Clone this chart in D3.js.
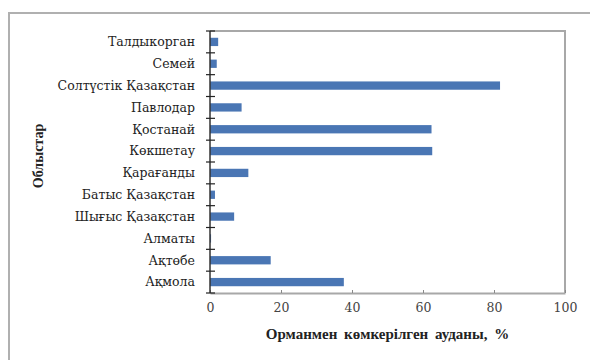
<!DOCTYPE html>
<html>
<head>
<meta charset="utf-8">
<script src="https://cdn.jsdelivr.net/npm/d3@7"></script>
<style>
  body { margin: 0; background: #fff; }
</style>
</head>
<body>
<script>
// regions, bottom to top as drawn in the chart
var regions = ["Ақмола", "Ақтөбе", "Алматы", "Шығыс Қазақстан", "Батыс Қазақстан",
  "Қарағанды", "Көкшетау", "Қостанай", "Павлодар", "Солтүстік Қазақстан", "Семей", "Талдыкорган"];
var forestShare = [37.7, 17.1, 0.3, 6.8, 1.4, 10.8, 62.6, 62.4, 8.9, 81.7, 1.9, 2.3];
var xTicks = [0, 20, 40, 60, 80, 100];

var width = 590, height = 360;
var margin = {top: 31, right: 25, bottom: 67, left: 210};
var serif = "'DejaVu Serif', serif";
var serifBold = "'Liberation Serif', 'DejaVu Serif', serif";

var svg = d3.select("body").append("svg")
    .attr("width", width)
    .attr("height", height);

// outer frame (only top & left visible)
svg.append("path")
    .attr("d", "M9,372 L9,13 L600,13")
    .attr("fill", "none")
    .attr("stroke", "#b0b0b0")
    .attr("stroke-width", 2);

var x = d3.scaleLinear()
    .domain([0, 100])
    .range([margin.left, width - margin.right]);

var y = d3.scaleBand()
    .domain(regions.slice().reverse())
    .range([margin.top, height - margin.bottom])
    .paddingInner(0.62)
    .paddingOuter(0.31);

var data = regions.map(function(r, i) { return {name: r, value: forestShare[i]}; });

// plot area border (top & right gray)
svg.append("path")
    .attr("d", "M" + x(0) + "," + margin.top + " L" + x(100) + "," + margin.top +
      " L" + x(100) + "," + (height - margin.bottom))
    .attr("fill", "none")
    .attr("stroke", "#a8a8a8")
    .attr("stroke-width", 2);

// bars
svg.append("g")
  .selectAll("rect")
  .data(data)
  .enter()
  .append("rect")
    .attr("x", x(0))
    .attr("y", function(d) { return y(d.name); })
    .attr("width", function(d) { return x(d.value) - x(0); })
    .attr("height", y.bandwidth())
    .attr("fill", "#4a76b4");

// x axis
var xAxis = svg.append("g")
    .attr("transform", "translate(0," + (height - margin.bottom) + ")")
    .call(d3.axisBottom(x).tickValues(xTicks).tickSizeInner(-3).tickSizeOuter(0).tickPadding(10));
xAxis.attr("font-family", serif);
xAxis.select(".domain").attr("stroke", "#a8a8a8").attr("stroke-width", 2);
xAxis.selectAll(".tick line").attr("stroke", "#888");
xAxis.selectAll("text")
    .attr("font-size", 12.5)
    .attr("fill", "#444");

// y axis: ticks between categories, crossing the axis
var yAxisG = svg.append("g");
yAxisG.append("line")
    .attr("x1", x(0)).attr("x2", x(0))
    .attr("y1", margin.top).attr("y2", height - margin.bottom)
    .attr("stroke", "#333").attr("stroke-width", 1.5);
var step = y.step();
var bounds = d3.range(regions.length + 1).map(function(i) { return margin.top + i * step; });
yAxisG.selectAll(".ytick")
  .data(bounds)
  .enter()
  .append("line")
    .attr("x1", x(0) - 4).attr("x2", x(0) + 5)
    .attr("y1", function(d) { return d; })
    .attr("y2", function(d) { return d; })
    .attr("stroke", "#222").attr("stroke-width", 1.2);

yAxisG.selectAll(".ylab")
  .data(regions)
  .enter()
  .append("text")
    .attr("x", x(0) - 15)
    .attr("y", function(d) { return y(d) + y.bandwidth() / 2; })
    .attr("dy", "0.35em")
    .attr("text-anchor", "end")
    .attr("font-family", serif)
    .attr("font-size", 12.5)
    .attr("fill", "#222")
    .text(function(d) { return d; });

// axis titles
svg.append("text")
    .attr("x", (x(0) + x(100)) / 2)
    .attr("y", 339)
    .attr("text-anchor", "middle")
    .attr("font-family", serifBold)
    .style("word-spacing", "3px")
    .attr("font-size", 15)
    .attr("font-weight", "bold")
    .attr("fill", "#222")
    .text("Орманмен көмкерілген ауданы, %");

svg.append("text")
    .attr("transform", "translate(43,156) rotate(-90)")
    .attr("text-anchor", "middle")
    .attr("font-family", serifBold)
    .attr("font-size", 14)
    .attr("font-weight", "bold")
    .attr("fill", "#222")
    .text("Облыстар");
</script>
</body>
</html>
